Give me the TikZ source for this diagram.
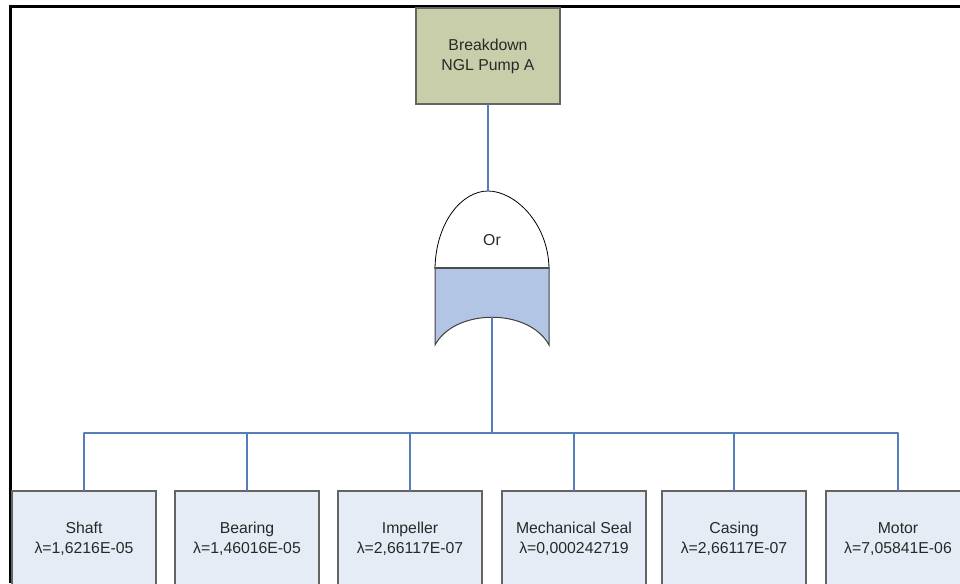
\documentclass[tikz,border=0pt]{standalone}
\usepackage{fontspec}
\setmainfont{Liberation Sans}
\definecolor{topfill}{RGB}{200,206,170}
\definecolor{basefill}{RGB}{230,236,246}
\definecolor{gatefill}{RGB}{178,197,228}
\definecolor{boxline}{RGB}{100,100,100}
\definecolor{linkblue}{RGB}{85,125,185}
\definecolor{txt}{RGB}{40,40,40}
\begin{document}
\begin{tikzpicture}[x=1pt,y=-1pt,line cap=round,
    event/.style={draw=boxline,line width=1.2pt,minimum width=144pt,minimum height=96pt,
      inner sep=0pt,align=center,text=txt,font=\fontsize{15.8}{20}\selectfont},
    link/.style={draw=linkblue,line width=1.3pt}]
  \useasboundingbox (0,0) rectangle (960,583);
  \draw[line width=3pt,line cap=butt] (10,583) -- (10,7) -- (960,7);
  \node[event,fill=topfill] (top) at (488,56) {Breakdown\\NGL Pump A};
  \coordinate (gatetop) at (488,191);
  \coordinate (gatebot) at (492,317);
  \coordinate (bus) at (492,433);
  \filldraw[fill=white,draw=black,line width=0.8pt] (435,268) .. controls (436,222) and (462,191) .. (gatetop)
    .. controls (514,191) and (548,222) .. (549,268);
  \filldraw[fill=gatefill,draw=black!75,line width=1pt] (435,268) -- (549,268) -- (549,345)
    .. controls (529,308) and (455,308) .. (435,345) -- cycle;
  \draw[black!70,line width=1.6pt] (435,268) -- (549,268);
  \node[text=txt,font=\fontsize{15.8}{19}\selectfont] (gate) at (492,240) {Or};
  \node[event,fill=basefill] (shaft) at (84,539) {Shaft\\λ=1,6216E-05};
  \node[event,fill=basefill] (bearing) at (247,539) {Bearing\\λ=1,46016E-05};
  \node[event,fill=basefill] (impeller) at (410,539) {Impeller\\λ=2,66117E-07};
  \node[event,fill=basefill] (seal) at (574,539) {Mechanical Seal\\λ=0,000242719};
  \node[event,fill=basefill] (casing) at (734,539) {Casing\\λ=2,66117E-07};
  \node[event,fill=basefill] (motor) at (898,539) {Motor\\λ=7,05841E-06};
  \draw[link] (top.south) -- (gatetop);
  \draw[link] (gatebot) -- (bus);
  \draw[link] (shaft.north |- bus) -- (motor.north |- bus);
  \foreach \n in {shaft,bearing,impeller,seal,casing,motor}
    \draw[link] (\n.north |- bus) -- (\n.north);
\end{tikzpicture}
\end{document}
